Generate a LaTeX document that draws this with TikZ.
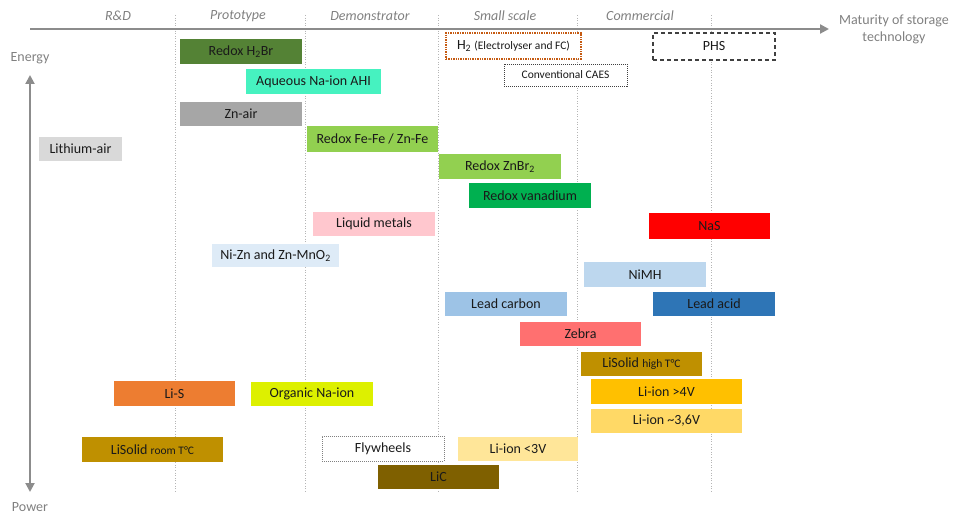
\documentclass[tikz,border=0pt]{standalone}
\usepackage{fontspec}
\setmainfont{Carlito}
\usetikzlibrary{arrows.meta}

% fill colours of the technology boxes
\definecolor{cH2Br}{HTML}{548235}
\definecolor{cAHI}{RGB}{70,242,192}
\definecolor{cZnAir}{HTML}{A6A6A6}
\definecolor{cFeFe}{HTML}{92D050}
\definecolor{cLiAir}{HTML}{D9D9D9}
\definecolor{cZnBr}{HTML}{92D050}
\definecolor{cVana}{HTML}{00B050}
\definecolor{cLiqM}{RGB}{255,199,206}
\definecolor{cNaS}{HTML}{FF0000}
\definecolor{cNiZn}{HTML}{DEEBF7}
\definecolor{cNiMH}{HTML}{BDD7EE}
\definecolor{cLeadC}{HTML}{9DC3E6}
\definecolor{cLeadA}{HTML}{2E75B6}
\definecolor{cZebra}{HTML}{FF7070}
\definecolor{cLiSol}{HTML}{BF9000}
\definecolor{cLiS}{HTML}{ED7D31}
\definecolor{cOrgNa}{RGB}{221,240,0}
\definecolor{cLiHi}{HTML}{FFC000}
\definecolor{cLiMid}{HTML}{FFD966}
\definecolor{cLiLo}{HTML}{FFE699}
\definecolor{cLiC}{HTML}{7F6000}
\definecolor{axisgray}{HTML}{8C8C8C}
\definecolor{labelgray}{HTML}{808080}
\definecolor{gridgray}{HTML}{B5B5B5}
\definecolor{txt}{HTML}{1A1A1A}
\definecolor{hborder}{HTML}{C55A11}
\definecolor{dborder}{HTML}{404040}

\newcommand{\smalltext}[1]{{\fontsize{11.5}{13}\selectfont #1}}

\tikzset{
  tech/.style={inner sep=0pt, outer sep=0pt, text=txt,
    font=\fontsize{14}{16}\selectfont, anchor=center},
  stage/.style={text=labelgray, font=\fontsize{14}{16}\selectfont\itshape},
  axislabel/.style={text=labelgray, font=\fontsize{14}{16}\selectfont, align=center},
  gridline/.style={gridgray, line width=0.8pt, dash pattern=on 1pt off 1.6pt},
  axisline/.style={axisgray, line width=2.2pt},
}

\newcommand{\tech}[7]{% name, x1, y1, x2, y2, style, text
  \pgfmathsetmacro{\cx}{(#2+#4)/2}%
  \pgfmathsetmacro{\cy}{(#3+#5)/2}%
  \pgfmathsetmacro{\bw}{#4-#2}%
  \pgfmathsetmacro{\bh}{#5-#3}%
  \node[tech, minimum width=\bw pt, minimum height=\bh pt, #6] (#1) at (\cx,\cy) {#7};%
}

\begin{document}
\begin{tikzpicture}[x=1pt,y=-1pt]
\useasboundingbox (0,0) rectangle (954,519);

% maturity stage boundaries
\foreach \gx in {175,305,438,577,711}
  \draw[gridline] (\gx,15) -- (\gx,493);

% maturity axis
\coordinate (mstart) at (30,29);
\coordinate (mend) at (829,29);
\draw[axisline, -{Triangle[length=9pt,width=9pt]}] (mstart) -- (mend);
\node[axislabel] (maturity) at (894,29) {Maturity of storage\\[1pt]technology};

% stage names
\node[stage] (rd) at (118,16) {R\&D};
\node[stage] (proto) at (238,16) {Prototype};
\node[stage] (demo) at (370,16) {Demonstrator};
\node[stage] (small) at (505,16) {Small scale};
\node[stage] (comm) at (640,16) {Commercial};

% energy / power axis
\node[axislabel] (energy) at (30,58) {Energy};
\node[axislabel] (power) at (30,507) {Power};
\coordinate (etop) at (30,75);
\coordinate (pbot) at (30,492);
\draw[axisline, line width=2pt, {Triangle[length=9pt,width=9pt]}-{Triangle[length=9pt,width=9pt]}] (etop) -- (pbot);

% technologies
\tech{h2br}{180}{39}{302}{64}{fill=cH2Br}{Redox H\textsubscript{2}Br}
\tech{ahi}{246}{69}{381}{94}{fill=cAHI}{Aqueous Na-ion AHI}
\tech{znair}{180}{102}{302}{126}{fill=cZnAir}{Zn-air}
\tech{fefe}{307}{126}{438}{152}{fill=cFeFe}{Redox Fe-Fe / Zn-Fe}
\tech{liair}{39}{137}{122}{161}{fill=cLiAir}{Lithium-air}
\tech{znbr}{439}{154}{561}{179}{fill=cZnBr}{Redox ZnBr\textsubscript{2}}
\tech{vana}{469}{183}{591}{208}{fill=cVana}{Redox vanadium}
\tech{liqm}{313}{212}{435}{236}{fill=cLiqM}{Liquid metals}
\tech{nas}{649}{213}{770}{239}{fill=cNaS}{NaS}
\tech{nizn}{212}{244}{339}{267}{fill=cNiZn}{Ni-Zn and Zn-MnO\textsubscript{2}}
\tech{nimh}{584}{262}{706}{287}{fill=cNiMH}{NiMH}
\tech{leadc}{445}{292}{567}{316}{fill=cLeadC}{Lead carbon}
\tech{leada}{653}{292}{775}{316}{fill=cLeadA}{Lead acid}
\tech{zebra}{520}{322}{641}{346}{fill=cZebra}{Zebra}
\tech{lisolh}{581}{352}{702}{376}{fill=cLiSol}{LiSolid \smalltext{high T°C}}
\tech{lis}{114}{381}{235}{406}{fill=cLiS}{Li-S}
\tech{orgna}{251}{382}{373}{406}{fill=cOrgNa}{Organic Na-ion}
\tech{lihi}{591}{379}{742}{404}{fill=cLiHi}{Li-ion >4V}
\tech{limid}{591}{409}{742}{433}{fill=cLiMid}{Li-ion \char`~3,6V}
\tech{lisolr}{82}{437}{223}{462}{fill=cLiSol}{LiSolid \smalltext{room T°C}}
\tech{fly}{322}{436}{444}{461}{fill=white, draw=labelgray, line width=0.9pt, dash pattern=on 1pt off 1pt}{Flywheels}
\tech{lilo}{458}{437}{578}{461}{fill=cLiLo}{Li-ion <3V}
\tech{lic}{378}{465}{499}{489}{fill=cLiC}{LiC}

% large-scale storage
\tech{h2}{446}{33}{581}{59}{fill=white, draw=hborder, line width=1.2pt, dash pattern=on 1.4pt off 1pt}{H\textsubscript{2} \smalltext{(Electrolyser and FC)}}
\tech{caes}{504}{64}{627}{86}{fill=white, draw=dborder, line width=0.9pt, dash pattern=on 1pt off 1pt, font=\fontsize{11.5}{13}\selectfont}{Conventional CAES}
\tech{phs}{653}{33}{775}{60}{fill=white, draw=dborder, line width=1.1pt, dash pattern=on 4pt off 3pt}{PHS}

\end{tikzpicture}
\end{document}
